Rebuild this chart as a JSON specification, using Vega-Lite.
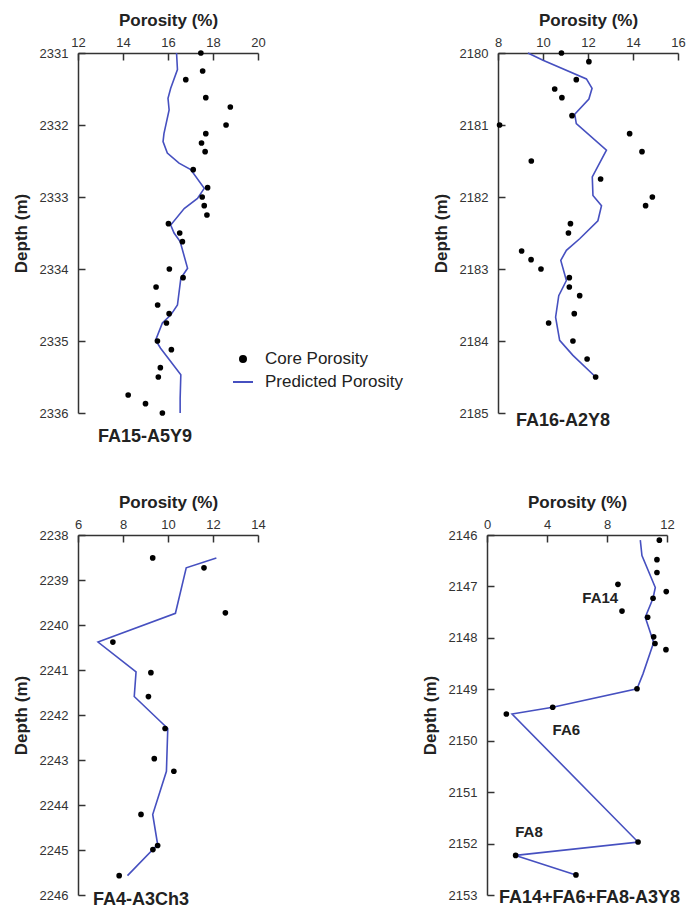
{
  "$schema": "https://vega.github.io/schema/vega-lite/v6.json",
  "padding": {"left": 12, "top": 11, "right": 5, "bottom": 14},
  "background": "white",
  "datasets": {
    "core": [
      {"well": "FA15-A5Y9", "depth": 2331.0, "porosity": 17.46},
      {"well": "FA15-A5Y9", "depth": 2331.25, "porosity": 17.54},
      {"well": "FA15-A5Y9", "depth": 2331.37, "porosity": 16.79},
      {"well": "FA15-A5Y9", "depth": 2331.62, "porosity": 17.68},
      {"well": "FA15-A5Y9", "depth": 2331.75, "porosity": 18.77},
      {"well": "FA15-A5Y9", "depth": 2332.0, "porosity": 18.58},
      {"well": "FA15-A5Y9", "depth": 2332.12, "porosity": 17.68},
      {"well": "FA15-A5Y9", "depth": 2332.25, "porosity": 17.49},
      {"well": "FA15-A5Y9", "depth": 2332.37, "porosity": 17.65},
      {"well": "FA15-A5Y9", "depth": 2332.62, "porosity": 17.12},
      {"well": "FA15-A5Y9", "depth": 2332.87, "porosity": 17.76},
      {"well": "FA15-A5Y9", "depth": 2333.0, "porosity": 17.52},
      {"well": "FA15-A5Y9", "depth": 2333.12, "porosity": 17.61},
      {"well": "FA15-A5Y9", "depth": 2333.25, "porosity": 17.73},
      {"well": "FA15-A5Y9", "depth": 2333.37, "porosity": 16.02},
      {"well": "FA15-A5Y9", "depth": 2333.5, "porosity": 16.52},
      {"well": "FA15-A5Y9", "depth": 2333.62, "porosity": 16.64},
      {"well": "FA15-A5Y9", "depth": 2334.0, "porosity": 16.06},
      {"well": "FA15-A5Y9", "depth": 2334.12, "porosity": 16.67},
      {"well": "FA15-A5Y9", "depth": 2334.25, "porosity": 15.47},
      {"well": "FA15-A5Y9", "depth": 2334.5, "porosity": 15.54},
      {"well": "FA15-A5Y9", "depth": 2334.62, "porosity": 16.05},
      {"well": "FA15-A5Y9", "depth": 2334.75, "porosity": 15.93},
      {"well": "FA15-A5Y9", "depth": 2335.0, "porosity": 15.53},
      {"well": "FA15-A5Y9", "depth": 2335.12, "porosity": 16.15},
      {"well": "FA15-A5Y9", "depth": 2335.37, "porosity": 15.66},
      {"well": "FA15-A5Y9", "depth": 2335.5, "porosity": 15.57},
      {"well": "FA15-A5Y9", "depth": 2335.75, "porosity": 14.23},
      {"well": "FA15-A5Y9", "depth": 2335.87, "porosity": 15.0},
      {"well": "FA15-A5Y9", "depth": 2336.0, "porosity": 15.75},
      {"well": "FA16-A2Y8", "depth": 2180.0, "porosity": 10.82},
      {"well": "FA16-A2Y8", "depth": 2180.12, "porosity": 12.04},
      {"well": "FA16-A2Y8", "depth": 2180.37, "porosity": 11.48},
      {"well": "FA16-A2Y8", "depth": 2180.5, "porosity": 10.52},
      {"well": "FA16-A2Y8", "depth": 2180.62, "porosity": 10.84},
      {"well": "FA16-A2Y8", "depth": 2180.87, "porosity": 11.29},
      {"well": "FA16-A2Y8", "depth": 2181.0, "porosity": 8.07},
      {"well": "FA16-A2Y8", "depth": 2181.12, "porosity": 13.85},
      {"well": "FA16-A2Y8", "depth": 2181.37, "porosity": 14.4},
      {"well": "FA16-A2Y8", "depth": 2181.5, "porosity": 9.48},
      {"well": "FA16-A2Y8", "depth": 2181.75, "porosity": 12.56},
      {"well": "FA16-A2Y8", "depth": 2182.0, "porosity": 14.86},
      {"well": "FA16-A2Y8", "depth": 2182.12, "porosity": 14.56},
      {"well": "FA16-A2Y8", "depth": 2182.37, "porosity": 11.22},
      {"well": "FA16-A2Y8", "depth": 2182.5, "porosity": 11.13},
      {"well": "FA16-A2Y8", "depth": 2182.75, "porosity": 9.05},
      {"well": "FA16-A2Y8", "depth": 2182.87, "porosity": 9.47},
      {"well": "FA16-A2Y8", "depth": 2183.0, "porosity": 9.91},
      {"well": "FA16-A2Y8", "depth": 2183.12, "porosity": 11.17},
      {"well": "FA16-A2Y8", "depth": 2183.25, "porosity": 11.17},
      {"well": "FA16-A2Y8", "depth": 2183.37, "porosity": 11.63},
      {"well": "FA16-A2Y8", "depth": 2183.62, "porosity": 11.39},
      {"well": "FA16-A2Y8", "depth": 2183.75, "porosity": 10.25},
      {"well": "FA16-A2Y8", "depth": 2184.0, "porosity": 11.33},
      {"well": "FA16-A2Y8", "depth": 2184.25, "porosity": 11.96},
      {"well": "FA16-A2Y8", "depth": 2184.5, "porosity": 12.34},
      {"well": "FA4-A3Ch3", "depth": 2238.51, "porosity": 9.32},
      {"well": "FA4-A3Ch3", "depth": 2238.73, "porosity": 11.6},
      {"well": "FA4-A3Ch3", "depth": 2239.73, "porosity": 12.55},
      {"well": "FA4-A3Ch3", "depth": 2240.38, "porosity": 7.55},
      {"well": "FA4-A3Ch3", "depth": 2241.06, "porosity": 9.24},
      {"well": "FA4-A3Ch3", "depth": 2241.59, "porosity": 9.13},
      {"well": "FA4-A3Ch3", "depth": 2242.3, "porosity": 9.87},
      {"well": "FA4-A3Ch3", "depth": 2242.97, "porosity": 9.39},
      {"well": "FA4-A3Ch3", "depth": 2243.25, "porosity": 10.26},
      {"well": "FA4-A3Ch3", "depth": 2244.21, "porosity": 8.8},
      {"well": "FA4-A3Ch3", "depth": 2244.9, "porosity": 9.54},
      {"well": "FA4-A3Ch3", "depth": 2244.99, "porosity": 9.33},
      {"well": "FA4-A3Ch3", "depth": 2245.57, "porosity": 7.83},
      {"well": "FA14+FA6+FA8-A3Y8", "depth": 2146.1, "porosity": 11.49},
      {"well": "FA14+FA6+FA8-A3Y8", "depth": 2146.48, "porosity": 11.33},
      {"well": "FA14+FA6+FA8-A3Y8", "depth": 2146.73, "porosity": 11.33},
      {"well": "FA14+FA6+FA8-A3Y8", "depth": 2146.96, "porosity": 8.73},
      {"well": "FA14+FA6+FA8-A3Y8", "depth": 2147.1, "porosity": 11.95},
      {"well": "FA14+FA6+FA8-A3Y8", "depth": 2147.23, "porosity": 11.07},
      {"well": "FA14+FA6+FA8-A3Y8", "depth": 2147.48, "porosity": 9.0},
      {"well": "FA14+FA6+FA8-A3Y8", "depth": 2147.6, "porosity": 10.71},
      {"well": "FA14+FA6+FA8-A3Y8", "depth": 2147.98, "porosity": 11.11},
      {"well": "FA14+FA6+FA8-A3Y8", "depth": 2148.11, "porosity": 11.2},
      {"well": "FA14+FA6+FA8-A3Y8", "depth": 2148.23, "porosity": 11.93},
      {"well": "FA14+FA6+FA8-A3Y8", "depth": 2148.99, "porosity": 10.0},
      {"well": "FA14+FA6+FA8-A3Y8", "depth": 2149.35, "porosity": 4.38},
      {"well": "FA14+FA6+FA8-A3Y8", "depth": 2149.48, "porosity": 1.29},
      {"well": "FA14+FA6+FA8-A3Y8", "depth": 2151.97, "porosity": 10.07},
      {"well": "FA14+FA6+FA8-A3Y8", "depth": 2152.23, "porosity": 1.91},
      {"well": "FA14+FA6+FA8-A3Y8", "depth": 2152.61, "porosity": 5.93}
    ],
    "pred": [
      {"well": "FA15-A5Y9", "depth": 2331.0, "porosity": 16.38},
      {"well": "FA15-A5Y9", "depth": 2331.23, "porosity": 16.42},
      {"well": "FA15-A5Y9", "depth": 2331.49, "porosity": 16.12},
      {"well": "FA15-A5Y9", "depth": 2331.63, "porosity": 16.0},
      {"well": "FA15-A5Y9", "depth": 2331.79, "porosity": 16.05},
      {"well": "FA15-A5Y9", "depth": 2332.12, "porosity": 15.82},
      {"well": "FA15-A5Y9", "depth": 2332.23, "porosity": 15.78},
      {"well": "FA15-A5Y9", "depth": 2332.39, "porosity": 15.97},
      {"well": "FA15-A5Y9", "depth": 2332.53, "porosity": 16.49},
      {"well": "FA15-A5Y9", "depth": 2332.62, "porosity": 17.01},
      {"well": "FA15-A5Y9", "depth": 2332.88, "porosity": 17.61},
      {"well": "FA15-A5Y9", "depth": 2333.02, "porosity": 17.31},
      {"well": "FA15-A5Y9", "depth": 2333.16, "porosity": 16.72},
      {"well": "FA15-A5Y9", "depth": 2333.39, "porosity": 16.12},
      {"well": "FA15-A5Y9", "depth": 2333.5, "porosity": 16.27},
      {"well": "FA15-A5Y9", "depth": 2333.62, "porosity": 16.54},
      {"well": "FA15-A5Y9", "depth": 2333.99, "porosity": 16.87},
      {"well": "FA15-A5Y9", "depth": 2334.13, "porosity": 16.57},
      {"well": "FA15-A5Y9", "depth": 2334.5, "porosity": 16.42},
      {"well": "FA15-A5Y9", "depth": 2334.64, "porosity": 16.12},
      {"well": "FA15-A5Y9", "depth": 2334.75, "porosity": 15.75},
      {"well": "FA15-A5Y9", "depth": 2334.99, "porosity": 15.45},
      {"well": "FA15-A5Y9", "depth": 2335.1, "porosity": 15.67},
      {"well": "FA15-A5Y9", "depth": 2335.47, "porosity": 16.57},
      {"well": "FA15-A5Y9", "depth": 2335.8, "porosity": 16.54},
      {"well": "FA15-A5Y9", "depth": 2336.0, "porosity": 16.54},
      {"well": "FA16-A2Y8", "depth": 2180.0, "porosity": 9.33},
      {"well": "FA16-A2Y8", "depth": 2180.1, "porosity": 10.0},
      {"well": "FA16-A2Y8", "depth": 2180.36, "porosity": 11.93},
      {"well": "FA16-A2Y8", "depth": 2180.49, "porosity": 12.18},
      {"well": "FA16-A2Y8", "depth": 2180.64, "porosity": 12.04},
      {"well": "FA16-A2Y8", "depth": 2180.85, "porosity": 11.41},
      {"well": "FA16-A2Y8", "depth": 2180.98, "porosity": 11.48},
      {"well": "FA16-A2Y8", "depth": 2181.35, "porosity": 12.82},
      {"well": "FA16-A2Y8", "depth": 2181.72, "porosity": 12.19},
      {"well": "FA16-A2Y8", "depth": 2181.98, "porosity": 12.22},
      {"well": "FA16-A2Y8", "depth": 2182.12, "porosity": 12.6},
      {"well": "FA16-A2Y8", "depth": 2182.33, "porosity": 12.44},
      {"well": "FA16-A2Y8", "depth": 2182.58, "porosity": 11.63},
      {"well": "FA16-A2Y8", "depth": 2182.74, "porosity": 11.04},
      {"well": "FA16-A2Y8", "depth": 2182.88, "porosity": 10.79},
      {"well": "FA16-A2Y8", "depth": 2183.16, "porosity": 11.04},
      {"well": "FA16-A2Y8", "depth": 2183.37, "porosity": 10.7},
      {"well": "FA16-A2Y8", "depth": 2183.67, "porosity": 10.56},
      {"well": "FA16-A2Y8", "depth": 2183.99, "porosity": 10.74},
      {"well": "FA16-A2Y8", "depth": 2184.2, "porosity": 11.33},
      {"well": "FA16-A2Y8", "depth": 2184.5, "porosity": 12.34},
      {"well": "FA4-A3Ch3", "depth": 2238.51, "porosity": 12.15},
      {"well": "FA4-A3Ch3", "depth": 2238.73, "porosity": 10.81},
      {"well": "FA4-A3Ch3", "depth": 2239.74, "porosity": 10.33},
      {"well": "FA4-A3Ch3", "depth": 2240.38, "porosity": 6.89},
      {"well": "FA4-A3Ch3", "depth": 2241.04, "porosity": 8.58},
      {"well": "FA4-A3Ch3", "depth": 2241.59, "porosity": 8.5},
      {"well": "FA4-A3Ch3", "depth": 2242.3, "porosity": 9.99},
      {"well": "FA4-A3Ch3", "depth": 2243.25, "porosity": 9.93},
      {"well": "FA4-A3Ch3", "depth": 2244.21, "porosity": 9.32},
      {"well": "FA4-A3Ch3", "depth": 2244.88, "porosity": 9.54},
      {"well": "FA4-A3Ch3", "depth": 2245.57, "porosity": 8.2},
      {"well": "FA14+FA6+FA8-A3Y8", "depth": 2146.1, "porosity": 10.22},
      {"well": "FA14+FA6+FA8-A3Y8", "depth": 2146.4, "porosity": 10.33},
      {"well": "FA14+FA6+FA8-A3Y8", "depth": 2147.02, "porosity": 11.22},
      {"well": "FA14+FA6+FA8-A3Y8", "depth": 2147.23, "porosity": 11.07},
      {"well": "FA14+FA6+FA8-A3Y8", "depth": 2147.6, "porosity": 10.55},
      {"well": "FA14+FA6+FA8-A3Y8", "depth": 2148.09, "porosity": 11.11},
      {"well": "FA14+FA6+FA8-A3Y8", "depth": 2148.7, "porosity": 10.4},
      {"well": "FA14+FA6+FA8-A3Y8", "depth": 2148.99, "porosity": 10.0},
      {"well": "FA14+FA6+FA8-A3Y8", "depth": 2149.35, "porosity": 4.38},
      {"well": "FA14+FA6+FA8-A3Y8", "depth": 2149.48, "porosity": 1.67},
      {"well": "FA14+FA6+FA8-A3Y8", "depth": 2151.97, "porosity": 10.07},
      {"well": "FA14+FA6+FA8-A3Y8", "depth": 2152.23, "porosity": 1.91},
      {"well": "FA14+FA6+FA8-A3Y8", "depth": 2152.61, "porosity": 5.93}
    ],
    "notes": [
      {"well": "FA14+FA6+FA8-A3Y8", "label": "FA14", "depth": 2147.23, "porosity": 7.55},
      {"well": "FA14+FA6+FA8-A3Y8", "label": "FA6", "depth": 2149.79, "porosity": 5.29},
      {"well": "FA14+FA6+FA8-A3Y8", "label": "FA8", "depth": 2151.77, "porosity": 2.8}
    ]
  },
  "spacing": 47,
  "vconcat": [
    {
      "bounds": "flush",
      "spacing": 240,
      "hconcat": [
        {
          "width": 180, "height": 360,
          "title": {"text": "FA15-A5Y9", "orient": "bottom", "anchor": "start", "frame": "group", "offset": 8, "dx": 20},
          "encoding": {
            "x": {"field": "porosity", "type": "quantitative", "scale": {"domain": [12, 20], "nice": false, "zero": false}, "axis": {"orient": "top", "values": [12, 14, 16, 18, 20], "title": "Porosity (%)"}},
            "y": {"field": "depth", "type": "quantitative", "scale": {"domain": [2331, 2336], "reverse": true, "nice": false, "zero": false}, "axis": {"values": [2331, 2332, 2333, 2334, 2335, 2336], "format": "d", "title": "Depth (m)"}}
          },
          "layer": [
            {
              "data": {"name": "pred"},
              "transform": [{"filter": "datum.well == 'FA15-A5Y9'"}, {"calculate": "'Predicted Porosity'", "as": "series"}],
              "mark": {"type": "line", "strokeWidth": 1.6},
              "encoding": {
                "order": {"field": "depth", "type": "quantitative"},
                "color": {"field": "series", "type": "nominal", "scale": {"domain": ["Core Porosity", "Predicted Porosity"], "range": ["#000000", "#4650c0"]},
                  "legend": {"title": null, "orient": "none", "legendX": 154, "legendY": 295,
                    "encode": {"symbols": {"update": {
                      "shape": {"signal": "datum.value === 'Core Porosity' ? 'circle' : 'stroke'"},
                      "size": {"signal": "datum.value === 'Core Porosity' ? 36 : 400"},
                      "fill": {"signal": "datum.value === 'Core Porosity' ? '#000000' : 'transparent'"},
                      "stroke": {"signal": "datum.value === 'Core Porosity' ? 'transparent' : '#4650c0'"},
                      "strokeWidth": {"value": 2},
                      "opacity": {"value": 1}
                    }}}}}
              }
            },
            {
              "data": {"name": "core"},
              "transform": [{"filter": "datum.well == 'FA15-A5Y9'"}, {"calculate": "'Core Porosity'", "as": "series"}],
              "mark": {"type": "circle", "size": 32, "opacity": 1},
              "encoding": {"color": {"field": "series", "type": "nominal"}}
            }
          ]
        },
        {
          "width": 180, "height": 360,
          "title": {"text": "FA16-A2Y8", "orient": "bottom", "anchor": "start", "frame": "group", "offset": -8, "dx": 18},
          "encoding": {
            "x": {"field": "porosity", "type": "quantitative", "scale": {"domain": [8, 16], "nice": false, "zero": false}, "axis": {"orient": "top", "values": [8, 10, 12, 14, 16], "title": "Porosity (%)"}},
            "y": {"field": "depth", "type": "quantitative", "scale": {"domain": [2180, 2185], "reverse": true, "nice": false, "zero": false}, "axis": {"values": [2180, 2181, 2182, 2183, 2184, 2185], "format": "d", "title": "Depth (m)"}}
          },
          "layer": [
            {
              "data": {"name": "pred"},
              "transform": [{"filter": "datum.well == 'FA16-A2Y8'"}],
              "mark": {"type": "line", "strokeWidth": 1.6, "color": "#4650c0"},
              "encoding": {"order": {"field": "depth", "type": "quantitative"}}
            },
            {
              "data": {"name": "core"},
              "transform": [{"filter": "datum.well == 'FA16-A2Y8'"}],
              "mark": {"type": "circle", "size": 32, "opacity": 1, "color": "#000000"}
            }
          ]
        }
      ]
    },
    {
      "bounds": "flush",
      "spacing": 229,
      "hconcat": [
        {
          "width": 180, "height": 360,
          "title": {"text": "FA4-A3Ch3", "orient": "bottom", "anchor": "start", "frame": "group", "offset": -11, "dx": 15},
          "encoding": {
            "x": {"field": "porosity", "type": "quantitative", "scale": {"domain": [6, 14], "nice": false, "zero": false}, "axis": {"orient": "top", "values": [6, 8, 10, 12, 14], "title": "Porosity (%)"}},
            "y": {"field": "depth", "type": "quantitative", "scale": {"domain": [2238, 2246], "reverse": true, "nice": false, "zero": false}, "axis": {"values": [2238, 2239, 2240, 2241, 2242, 2243, 2244, 2245, 2246], "format": "d", "title": "Depth (m)"}}
          },
          "layer": [
            {
              "data": {"name": "pred"},
              "transform": [{"filter": "datum.well == 'FA4-A3Ch3'"}],
              "mark": {"type": "line", "strokeWidth": 1.6, "color": "#4650c0"},
              "encoding": {"order": {"field": "depth", "type": "quantitative"}}
            },
            {
              "data": {"name": "core"},
              "transform": [{"filter": "datum.well == 'FA4-A3Ch3'"}],
              "mark": {"type": "circle", "size": 32, "opacity": 1, "color": "#000000"}
            }
          ]
        },
        {
          "width": 180, "height": 360,
          "title": {"text": "FA14+FA6+FA8-A3Y8", "orient": "bottom", "anchor": "start", "frame": "group", "offset": -13, "dx": 12},
          "encoding": {
            "x": {"field": "porosity", "type": "quantitative", "scale": {"domain": [0, 12], "nice": false, "zero": false}, "axis": {"orient": "top", "values": [0, 4, 8, 12], "title": "Porosity (%)"}},
            "y": {"field": "depth", "type": "quantitative", "scale": {"domain": [2146, 2153], "reverse": true, "nice": false, "zero": false}, "axis": {"values": [2146, 2147, 2148, 2149, 2150, 2151, 2152, 2153], "format": "d", "title": "Depth (m)"}}
          },
          "layer": [
            {
              "data": {"name": "pred"},
              "transform": [{"filter": "datum.well == 'FA14+FA6+FA8-A3Y8'"}],
              "mark": {"type": "line", "strokeWidth": 1.6, "color": "#4650c0"},
              "encoding": {"order": {"field": "depth", "type": "quantitative"}}
            },
            {
              "data": {"name": "core"},
              "transform": [{"filter": "datum.well == 'FA14+FA6+FA8-A3Y8'"}],
              "mark": {"type": "circle", "size": 32, "opacity": 1, "color": "#000000"}
            },
            {
              "data": {"name": "notes"},
              "mark": {"type": "text", "font": "Liberation Sans", "fontSize": 15, "fontWeight": "bold", "color": "#222222", "align": "center", "baseline": "middle"},
              "encoding": {"text": {"field": "label", "type": "nominal"}}
            }
          ]
        }
      ]
    }
  ],
  "config": {
    "view": {"stroke": null},
    "font": "Liberation Sans",
    "title": {"font": "Liberation Sans", "fontSize": 18, "fontWeight": "bold", "color": "#222222", "baseline": "top"},
    "axis": {"grid": false, "labelFont": "Liberation Sans", "labelFontSize": 13, "labelColor": "#333333", "titleFont": "Liberation Sans", "titleFontSize": 17, "titleFontWeight": "bold", "titleColor": "#222222", "domainColor": "#333333", "domainWidth": 1.5, "tickColor": "#333333", "tickWidth": 1.5, "tickSize": -7},
    "axisX": {"labelPadding": 11, "titlePadding": 7, "labelFlush": false},
    "axisY": {"labelPadding": 17, "titlePadding": 9, "labelFlush": false},
    "legend": {"labelFont": "Liberation Sans", "labelFontSize": 17, "labelColor": "#222222", "symbolSize": 400, "labelOffset": 11, "rowPadding": 4, "padding": 0}
  }
}
